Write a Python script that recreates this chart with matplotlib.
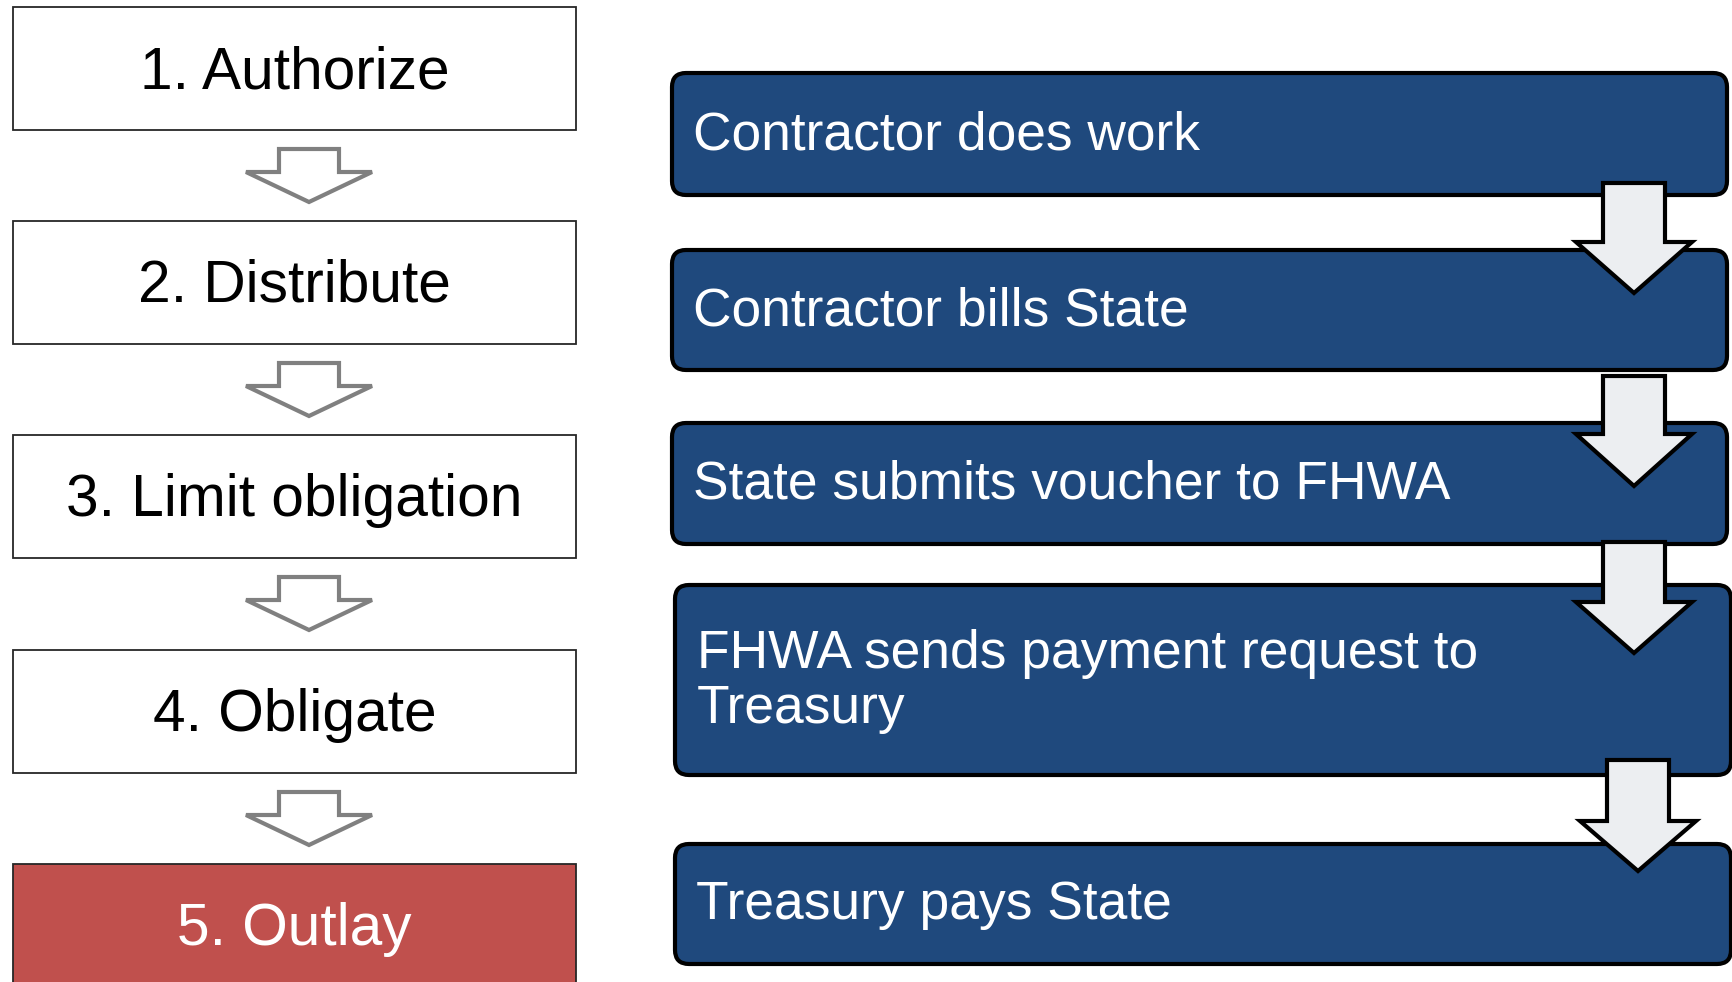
import matplotlib
matplotlib.use("Agg")
import matplotlib.pyplot as plt
from matplotlib.patches import Rectangle, FancyBboxPatch, Polygon

plt.rcParams['font.family'] = ['Liberation Sans', 'DejaVu Sans']

# left column: the budget steps
steps = ["1. Authorize", "2. Distribute", "3. Limit obligation", "4. Obligate", "5. Outlay"]
step_colors = ["white", "white", "white", "white", "#c0504d"]
step_text_colors = ["black", "black", "black", "black", "white"]

# right column: the outlay process
process = ["Contractor does work", "Contractor bills State", "State submits voucher to FHWA",
           ["FHWA sends payment request to", "Treasury"], "Treasury pays State"]

W, H = 1733, 982
fig = plt.figure(figsize=(W / 100, H / 100), dpi=100)
ax = fig.add_axes([0, 0, 1, 1])
ax.set_xlim(0, W)
ax.set_ylim(H, 0)
ax.axis("off")

# left boxes
lx0, lx1 = 13, 576
ltops = [7, 221, 435, 650, 864]
lh = 123
for i, (lab, fc, tc) in enumerate(zip(steps, step_colors, step_text_colors)):
    y = ltops[i]
    ax.add_patch(Rectangle((lx0, y), lx1 - lx0, lh, facecolor=fc, edgecolor="#262626", lw=1.3, zorder=2))
    ax.text((lx0 + lx1) / 2, y + lh / 2 + 4, lab, color=tc, fontsize=42.2, ha="center", va="center", zorder=3)

# hollow down arrows
def down_arrow(cx, top, shoulder, tip, half_shaft, half_head, fc, ec, lw):
    pts = [(cx - half_shaft, top), (cx + half_shaft, top), (cx + half_shaft, shoulder),
           (cx + half_head, shoulder), (cx, tip), (cx - half_head, shoulder), (cx - half_shaft, shoulder)]
    ax.add_patch(Polygon(pts, closed=True, facecolor=fc, edgecolor=ec, lw=lw, joinstyle="miter", zorder=5))

for i in range(4):
    top = ltops[i] + lh + 19
    down_arrow(309, top, top + 23, top + 53, 30, 63, "white", "#808080", 3)

# right boxes
rx = [672, 672, 672, 675, 675]
rw = [1055, 1055, 1055, 1056, 1056]
rtops = [73, 250, 423, 585, 844]
rh = [122, 120, 121, 190, 120]
for i, lab in enumerate(process):
    ax.add_patch(FancyBboxPatch((rx[i], rtops[i]), rw[i], rh[i], boxstyle="round,pad=0,rounding_size=14",
                                facecolor="#1f497d", edgecolor="black", lw=3, zorder=2))
    cy = rtops[i] + rh[i] / 2
    if isinstance(lab, list):
        ax.text(rx[i] + 22, cy - 26, lab[0], color="white", fontsize=38.4, ha="left", va="center", zorder=3)
        ax.text(rx[i] + 22, cy + 29, lab[1], color="white", fontsize=38.4, ha="left", va="center", zorder=3)
    else:
        ax.text(rx[i] + 21, cy + 1, lab, color="white", fontsize=38.4, ha="left", va="center", zorder=3)

# right block arrows overlapping the boxes
arrows_r = [(1634, 183, 242, 293), (1634, 376, 434, 486), (1634, 542, 602, 653), (1638, 760, 821, 871)]
for cx, top, sh, tip in arrows_r:
    down_arrow(cx, top, sh, tip, 31, 58, "#eceef1", "black", 3)

fig.savefig("out.png", dpi=100)
